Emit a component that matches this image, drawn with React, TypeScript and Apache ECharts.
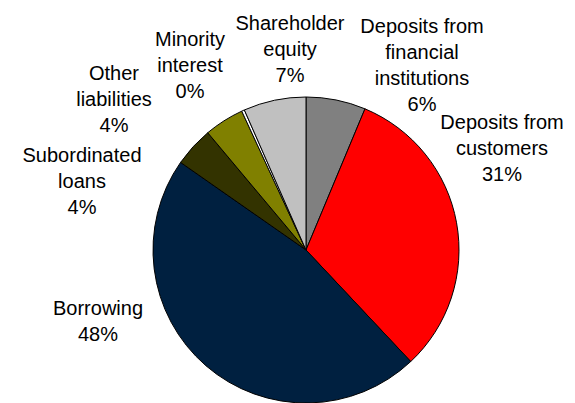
import React, { useEffect, useRef } from "react";
import * as echarts from "echarts";

// Slices clockwise from 12 o'clock
const categories = [
  "Deposits from\nfinancial\ninstitutions",
  "Deposits from\ncustomers",
  "Borrowing",
  "Subordinated\nloans",
  "Other\nliabilities",
  "Minority\ninterest",
  "Shareholder\nequity",
];
// slice shares (%) as drawn
const sliceValues = [6.3, 31.7, 46.7, 4.2, 4.2, 0.3, 6.6];
// percentages printed on the labels
const shownPct = [6, 31, 48, 4, 4, 0, 7];
const colors = ["#808080", "#FF0000", "#002040", "#333300", "#808000", "#FFFFFF", "#C0C0C0"];
// label block centres (layout)
const labelPos: [number, number][] = [
  [422, 65],
  [502, 148],
  [98, 321],
  [82, 181],
  [114, 99],
  [190, 65],
  [290, 49],
];

export default function App() {
  const ref = useRef<HTMLDivElement>(null);
  useEffect(() => {
    if (!ref.current) return;
    const chart = echarts.init(ref.current, undefined, { renderer: "svg" });
    chart.setOption({
      animation: false,
      backgroundColor: "#FFFFFF",
      series: [
        {
          type: "pie",
          center: [306, 250],
          radius: [0, 153],
          startAngle: 90,
          clockwise: true,
          avoidLabelOverlap: false,
          data: categories.map((name, i) => ({
            name,
            value: sliceValues[i],
            itemStyle: { color: colors[i] },
          })),
          itemStyle: { borderColor: "#000000", borderWidth: 1 },
          label: {
            show: true,
            position: "outside",
            formatter: (p: any) => `${p.name}\n${shownPct[p.dataIndex]}%`,
            fontFamily: "Liberation Sans, Arial, sans-serif",
            fontSize: 20,
            lineHeight: 26,
            color: "#000000",
            align: "center",
          },
          labelLine: { show: false },
          labelLayout: (params: any) => {
            const [x, y] = labelPos[params.dataIndex];
            return { x, y, align: "center", verticalAlign: "middle" };
          },
          emphasis: { disabled: true },
        },
      ],
    });
    return () => chart.dispose();
  }, []);
  return (
    <div
      ref={ref}
      style={{ position: "fixed", left: 0, top: 0, width: 575, height: 403, background: "#fff" }}
    />
  );
}
